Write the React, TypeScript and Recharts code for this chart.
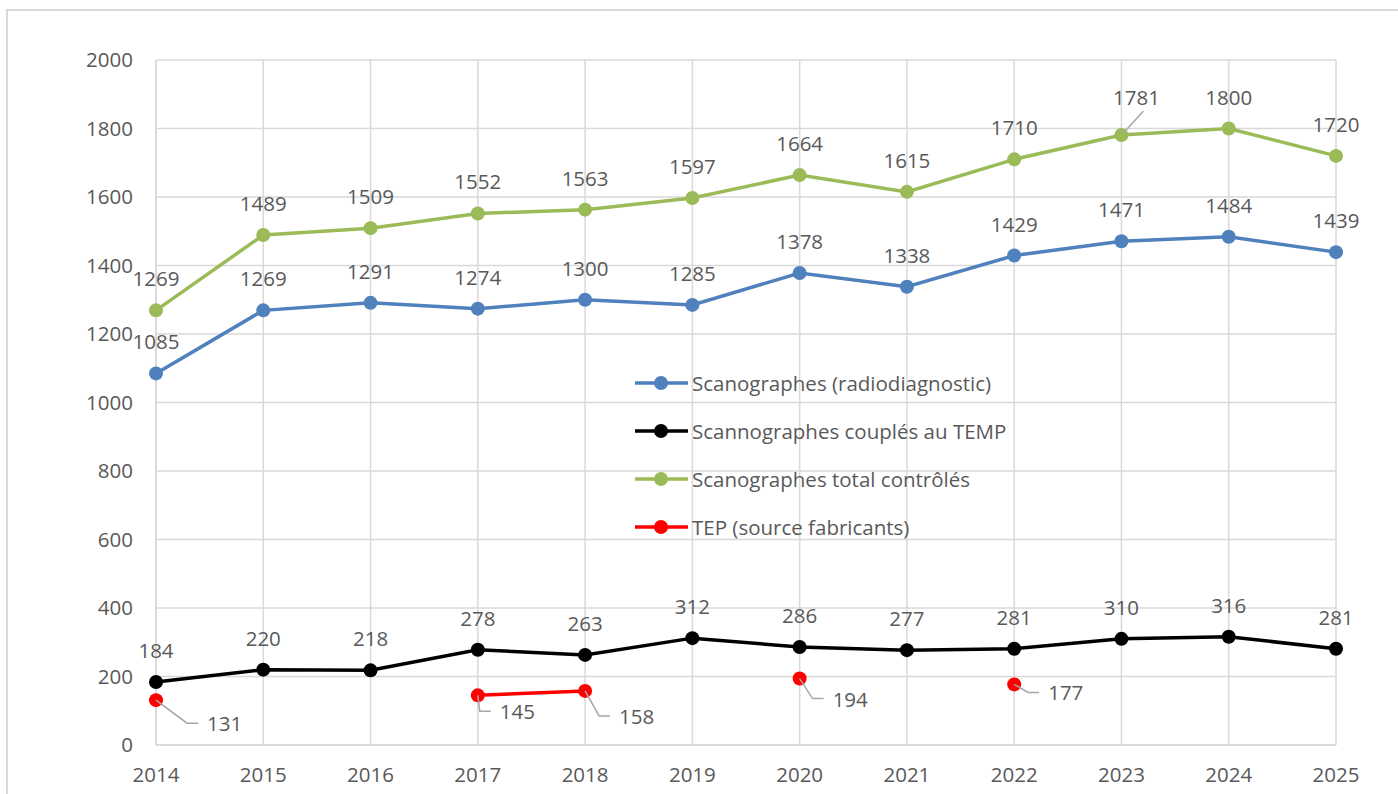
import React from "react"
import { CartesianGrid, LabelList, Line, LineChart, XAxis, YAxis } from "recharts"

const years = ["2014", "2015", "2016", "2017", "2018", "2019", "2020", "2021", "2022", "2023", "2024", "2025"]
const scanoRadio = [1085, 1269, 1291, 1274, 1300, 1285, 1378, 1338, 1429, 1471, 1484, 1439]
const scanoTemp = [184, 220, 218, 278, 263, 312, 286, 277, 281, 310, 316, 281]
const scanoTotal = [1269, 1489, 1509, 1552, 1563, 1597, 1664, 1615, 1710, 1781, 1800, 1720]
const tep: (number | null)[] = [131, null, null, 145, 158, null, 194, null, 177, null, null, null]
const yTicks = [0, 200, 400, 600, 800, 1000, 1200, 1400, 1600, 1800, 2000]

const data = years.map((year, i) => ({
    year,
    radio: scanoRadio[i],
    temp: scanoTemp[i],
    total: scanoTotal[i],
    tep: tep[i],
}))

// label placement for the TEP points (moved by hand in the original)
const tepLabelOffsets: Record<number, [number, number]> = {
    0: [51, 23],
    3: [22, 16],
    4: [34, 25],
    6: [33, 20],
    8: [34, 8],
}

const FONT = "'Open Sans', sans-serif"
const TEXT = "#595959"
const GRID = "#d9d9d9"
const LEADER = "#a6a6a6"

const series = [
    { key: "radio", name: "Scanographes (radiodiagnostic)", color: "#4f81bd" },
    { key: "temp", name: "Scannographes couplés au TEMP", color: "#000000" },
    { key: "total", name: "Scanographes total contrôlés", color: "#9bbb59" },
    { key: "tep", name: "TEP (source fabricants)", color: "#ff0000" },
]

const topLabel = (props: any) => {
    const { x, y, value } = props
    if (value == null) return null
    return (
        <text x={x} y={y - 32} textAnchor="middle" dominantBaseline="central" fill={TEXT} fontSize={20.5} fontFamily={FONT}>
            {value}
        </text>
    )
}

const totalLabel = (props: any) => {
    const { x, y, value, index } = props
    if (value == null) return null
    if (index === 9) {
        return (
            <g>
                <line x1={x + 2} y1={y - 2} x2={x + 22} y2={y - 24} stroke={LEADER} strokeWidth={1.5} />
                <text x={x + 15} y={y - 38} textAnchor="middle" dominantBaseline="central" fill={TEXT} fontSize={20.5} fontFamily={FONT}>
                    {value}
                </text>
            </g>
        )
    }
    return topLabel(props)
}

const tepLabel = (props: any) => {
    const { x, y, value, index } = props
    if (value == null) return null
    const [dx, dy] = tepLabelOffsets[index] || [30, 15]
    const tx = x + dx
    const ty = y + dy
    return (
        <g>
            <polyline
                points={`${x},${y} ${tx - 20},${ty} ${tx - 9},${ty}`}
                fill="none"
                stroke={LEADER}
                strokeWidth={1.5}
            />
            <text x={tx} y={ty} textAnchor="start" dominantBaseline="central" fill={TEXT} fontSize={20.5} fontFamily={FONT}>
                {value}
            </text>
        </g>
    )
}

function ChartLegend() {
    return (
        <div style={{ position: "absolute", left: 635, top: 359, fontFamily: FONT, fontSize: 20.5, color: TEXT }}>
            {series.map((s) => (
                <div key={s.key} style={{ display: "flex", alignItems: "center", height: 48 }}>
                    <svg width={57} height={20} style={{ flex: "none" }}>
                        <line x1={0} y1={10} x2={53} y2={10} stroke={s.color} strokeWidth={3.5} />
                        <circle cx={26} cy={10} r={7} fill={s.color} />
                    </svg>
                    <span style={{ whiteSpace: "nowrap" }}>{s.name}</span>
                </div>
            ))}
        </div>
    )
}

export default function App() {
    return (
        <div style={{ position: "absolute", left: 0, top: 0, width: 1398, height: 794, background: "#fff", overflow: "hidden" }}>
            <div
                style={{
                    position: "absolute",
                    left: 6,
                    top: 9,
                    width: 1400,
                    height: 800,
                    borderLeft: `2px solid ${GRID}`,
                    borderTop: `2px solid ${GRID}`,
                }}
            />
            <div style={{ position: "absolute", left: 0, top: 0 }}>
                <LineChart width={1398} height={794} data={data} margin={{ top: 60, right: 62, bottom: 0, left: 0 }}>
                    <CartesianGrid stroke={GRID} strokeWidth={1.5} />
                    <XAxis
                        dataKey="year"
                        height={49}
                        interval={0}
                        tickLine={false}
                        tickSize={0}
                        tickMargin={22}
                        axisLine={{ stroke: GRID, strokeWidth: 1.5 }}
                        tick={{ fill: TEXT, fontSize: 20.5, fontFamily: FONT }}
                    />
                    <YAxis
                        domain={[0, 2000]}
                        ticks={yTicks}
                        width={156}
                        tickLine={false}
                        tickSize={0}
                        tickMargin={23}
                        axisLine={{ stroke: GRID, strokeWidth: 1.5 }}
                        tick={{ fill: TEXT, fontSize: 20.5, fontFamily: FONT }}
                    />
                    <Line
                        dataKey="radio"
                        stroke="#4f81bd"
                        strokeWidth={3.5}
                        dot={{ r: 7, fill: "#4f81bd", stroke: "#4f81bd", strokeWidth: 0 }}
                        activeDot={false}
                        isAnimationActive={false}
                    >
                        <LabelList dataKey="radio" content={topLabel} />
                    </Line>
                    <Line
                        dataKey="temp"
                        stroke="#000000"
                        strokeWidth={3.5}
                        dot={{ r: 7, fill: "#000000", stroke: "#000000", strokeWidth: 0 }}
                        activeDot={false}
                        isAnimationActive={false}
                    >
                        <LabelList dataKey="temp" content={topLabel} />
                    </Line>
                    <Line
                        dataKey="total"
                        stroke="#9bbb59"
                        strokeWidth={3.5}
                        dot={{ r: 7, fill: "#9bbb59", stroke: "#9bbb59", strokeWidth: 0 }}
                        activeDot={false}
                        isAnimationActive={false}
                    >
                        <LabelList dataKey="total" content={totalLabel} />
                    </Line>
                    <Line
                        dataKey="tep"
                        stroke="#ff0000"
                        strokeWidth={3.5}
                        dot={{ r: 7, fill: "#ff0000", stroke: "#ff0000", strokeWidth: 0 }}
                        activeDot={false}
                        connectNulls={false}
                        isAnimationActive={false}
                    >
                        <LabelList dataKey="tep" content={tepLabel} />
                    </Line>
                </LineChart>
            </div>
            <ChartLegend />
        </div>
    )
}
